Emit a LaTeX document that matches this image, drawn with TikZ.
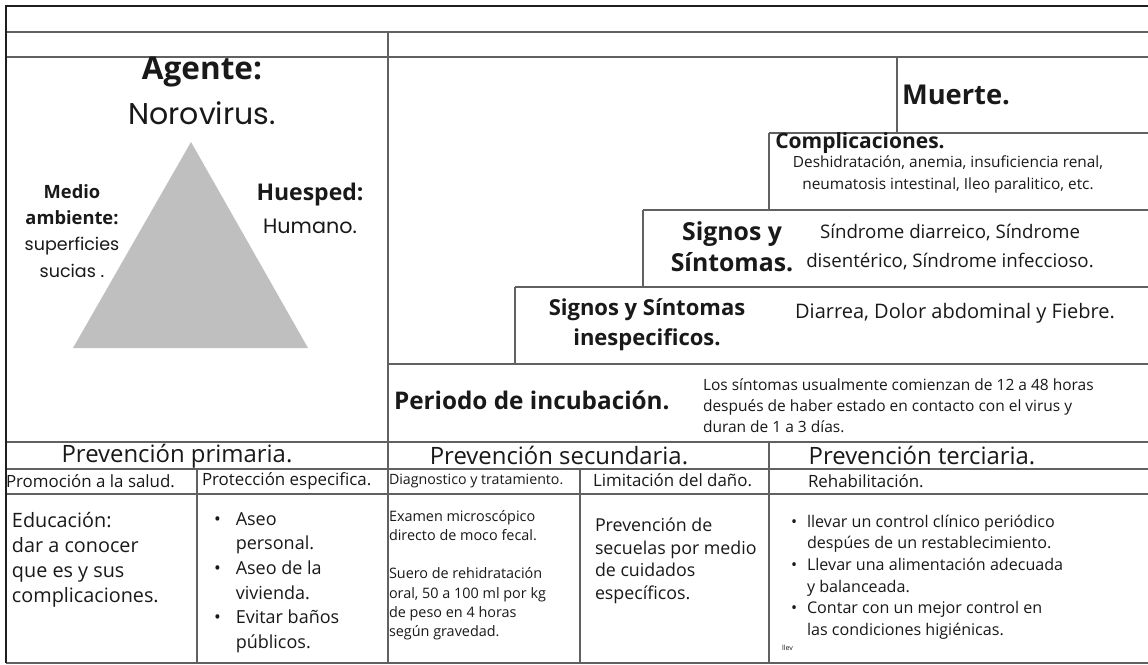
\documentclass[tikz,border=0pt]{standalone}
\usepackage{fontspec}
\setmainfont{Open Sans}
\newfontfamily\geo{Poppins}
\newcommand{\fs}[2]{\fontsize{#1}{#2}\selectfont}
\begin{document}
\begin{tikzpicture}[x=1pt,y=-1pt,
  ln/.style={draw=black!62, line width=1.6pt},
  dk/.style={draw=black!88, line width=2.2pt},
  every node/.style={inner sep=0pt, outer sep=0pt, text=black!90}]
\useasboundingbox (0,0) rectangle (1148,664);
\fill[white] (0,0) rectangle (1148,664);

% ---- grid lines
\draw[ln] (6,32) -- (1148,32);
\draw[ln] (6,57) -- (1148,57);
\draw[ln] (388,32) -- (388,663);
\draw[ln] (897,57) -- (897,133);
\draw[ln] (769,133) -- (1148,133);
\draw[ln] (769,133) -- (769,210);
\draw[ln] (643,210) -- (1148,210);
\draw[ln] (643,210) -- (643,287);
\draw[ln] (515,287) -- (1148,287);
\draw[ln] (515,287) -- (515,364);
\draw[ln] (388,364) -- (1148,364);
\draw[ln] (6,442) -- (1148,442);
\draw[ln] (6,469) -- (1148,469);
\draw[ln] (6,494) -- (1148,494);
\draw[ln] (6,663) -- (1148,663);
\draw[ln] (197,469) -- (197,663);
\draw[ln] (580,469) -- (580,663);
\draw[ln] (769,442) -- (769,663);
\draw[dk] (1148,6) -- (6,6) -- (6,663);

% ---- triad
\fill[black!25] (191,142) -- (308,348) -- (73,348) -- cycle;
\node[font=\bfseries\fs{31.5}{34}] (agente) at (202,72) {Agente:};
\node[font=\geo\fs{30}{32}] (noro) at (202,113) {Norovirus.};
\node[font=\bfseries\fs{18.3}{26}, align=center] (medio) at (72,205) {Medio\\ambiente:};
\node[font=\geo\fs{17.5}{27}, align=center] (sup) at (72,257) {superficies\\sucias .};
\node[font=\bfseries\fs{23}{26}] (hues) at (310,195) {Huesped:};
\node[font=\geo\fs{20.7}{26}] (hum) at (310,226) {Humano.};

% ---- natural history steps
\node[font=\bfseries\fs{27.3}{30}] (muerte) at (956,95) {Muerte.};
\node[font=\bfseries\fs{21}{24}] (compl) at (860,143) {Complicaciones.};
\node[font=\fs{15.4}{22}, align=center] (compltx) at (948,174) {Deshidratación, anemia, insuficiencia renal,\\neumatosis intestinal, Ileo paralitico, etc.};
\node[font=\bfseries\fs{24.8}{31}, align=center] (sys) at (732,247) {Signos y\\Síntomas.};
\node[font=\fs{18.7}{29}, align=center] (systx) at (950,247) {Síndrome diarreico, Síndrome\\disentérico, Síndrome infeccioso.};
\node[font=\bfseries\fs{22}{30}, align=center] (sysi) at (647,325) {Signos y Síntomas\\inespecificos.};
\node[font=\fs{20}{24}] (sysitx) at (955,313) {Diarrea, Dolor abdominal y Fiebre.};
\node[font=\bfseries\fs{24.3}{28}, anchor=west] (inc) at (394,400) {Periodo de incubación.};
\node[font=\fs{15.5}{21}, align=left, anchor=west] (inctx) at (703,406) {Los síntomas usualmente comienzan de 12 a 48 horas\\después de haber estado en contacto con el virus y\\duran de 1 a 3 días.};

% ---- prevention levels
\node[font=\fs{23.9}{26}] (prim) at (177,456) {Prevención primaria.};
\node[font=\fs{23.9}{26}] (sec) at (559,456) {Prevención secundaria.};
\node[font=\fs{23.9}{26}] (ter) at (922,456) {Prevención terciaria.};
\node[font=\fs{16.9}{19}, anchor=west] (h1) at (6,481) {Promoción a la salud.};
\node[font=\fs{16.9}{19}, anchor=west] (h2) at (202,481) {Protección especifica.};
\node[font=\fs{14.2}{18}, anchor=west] (h3) at (389,481) {Diagnostico y tratamiento.};
\node[font=\fs{16.9}{19}, anchor=west] (h4) at (593,480) {Limitación del daño.};
\node[font=\fs{16.9}{19}, anchor=west] (h5) at (808,481) {Rehabilitación.};

\node[font=\fs{19.8}{25}, align=left, anchor=north west] (b1) at (12,512) {Educación:\\dar a conocer\\que es y sus\\complicaciones.};
\node[font=\fs{18}{24.6}, anchor=north west] (b2) at (214,508) {%
  \begin{tabular}{@{}l@{\hspace{15pt}}l@{}}
  \textbullet & Aseo\\ & personal.\\
  \textbullet & Aseo de la\\ & vivienda.\\
  \textbullet & Evitar baños\\ & públicos.
  \end{tabular}};
\node[font=\fs{14.4}{19.3}, align=left, anchor=north west] (b3) at (389,510) {Examen microscópico\\directo de moco fecal.\\[19.3pt]Suero de rehidratación\\oral, 50 a 100 ml por kg\\de peso en 4 horas\\según gravedad.};
\node[font=\fs{17.8}{22.5}, align=left, anchor=north west] (b4) at (595,518) {Prevención de\\secuelas por medio\\de cuidados\\específicos.};
\node[font=\fs{16.1}{21.7}, anchor=north west] (b5) at (791,512) {%
  \begin{tabular}{@{}l@{\hspace{10pt}}l@{}}
  \textbullet & llevar un control clínico periódico\\ & despúes de un restablecimiento.\\
  \textbullet & Llevar una alimentación adecuada\\ & y balanceada.\\
  \textbullet & Contar con un mejor control en\\ & las condiciones higiénicas.
  \end{tabular}};
\node[font=\fs{7}{8}, anchor=west] (llev) at (782,648) {llev};
\end{tikzpicture}
\end{document}
